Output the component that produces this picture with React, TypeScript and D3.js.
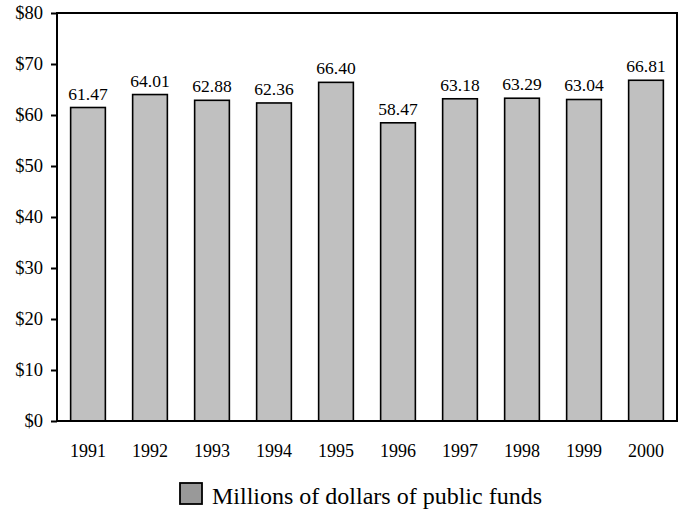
import { useRef, useEffect } from "react";
import * as d3 from "d3";

// years along the x axis
const years = ["1991", "1992", "1993", "1994", "1995", "1996", "1997", "1998", "1999", "2000"];
// millions of dollars of public funds
const funds = [61.47, 64.01, 62.88, 62.36, 66.4, 58.47, 63.18, 63.29, 63.04, 66.81];
const yTicks = [0, 10, 20, 30, 40, 50, 60, 70, 80];
const legendLabel = "Millions of dollars of public funds";

const App = () => {
  const ref = useRef<SVGSVGElement | null>(null);

  useEffect(() => {
    const svg = d3.select(ref.current);
    svg.selectAll("*").remove();

    const left = 57, right = 677, top = 13, bottom = 421;
    const font = "Liberation Serif";

    const x = d3.scaleBand<string>().domain(years).range([left, right]).paddingInner(0.44).paddingOuter(0.22);
    const y = d3.scaleLinear().domain([0, 80]).range([bottom, top]);

    /** bars */
    svg
      .append("g")
      .selectAll("rect")
      .data(funds)
      .join("rect")
      .attr("x", (_, i) => x(years[i])!)
      .attr("y", (d) => y(d))
      .attr("width", x.bandwidth())
      .attr("height", (d) => y(0) - y(d))
      .attr("fill", "#c0c0c0")
      .attr("stroke", "#000")
      .attr("stroke-width", 1.6);

    /** value labels */
    svg
      .append("g")
      .selectAll("text")
      .data(funds)
      .join("text")
      .attr("x", (_, i) => x(years[i])! + x.bandwidth() / 2)
      .attr("y", (d) => y(d) - 8)
      .attr("text-anchor", "middle")
      .style("font-family", font)
      .style("font-size", "17.5px")
      .text((d) => d.toFixed(2));

    /** frame */
    svg
      .append("rect")
      .attr("x", left)
      .attr("y", top)
      .attr("width", right - left)
      .attr("height", bottom - top)
      .attr("fill", "none")
      .attr("stroke", "#000")
      .attr("stroke-width", 2);

    /** y axis */
    const yAxis = svg
      .append("g")
      .attr("transform", `translate(${left},0)`)
      .call(
        d3
          .axisLeft(y)
          .tickValues(yTicks)
          .tickSize(6)
          .tickPadding(8)
          .tickFormat((d) => `$${d}`)
      );
    yAxis.select(".domain").remove();
    yAxis.selectAll("line").attr("stroke", "#000").attr("stroke-width", 2);
    yAxis.selectAll("text").style("font-family", font).style("font-size", "18.5px").attr("fill", "#000");

    /** x axis labels */
    const xAxis = svg
      .append("g")
      .attr("transform", `translate(0,${bottom})`)
      .call(d3.axisBottom(x).tickSize(0).tickPadding(23));
    xAxis.select(".domain").remove();
    xAxis.selectAll("text").style("font-family", font).style("font-size", "18px").attr("fill", "#000");

    /** legend */
    const legend = svg.append("g").attr("transform", "translate(180,483)");
    legend
      .append("rect")
      .attr("width", 22)
      .attr("height", 21)
      .attr("fill", "#999999")
      .attr("stroke", "#000")
      .attr("stroke-width", 1.8);
    legend
      .append("text")
      .attr("x", 32)
      .attr("y", 21)
      .style("font-family", font)
      .style("font-size", "24px")
      .text(legendLabel);
  }, []);

  return (
    <svg
      ref={ref}
      width={686}
      height={509}
      style={{ display: "block", position: "absolute", left: 0, top: 0 }}
    />
  );
};

export default App;
